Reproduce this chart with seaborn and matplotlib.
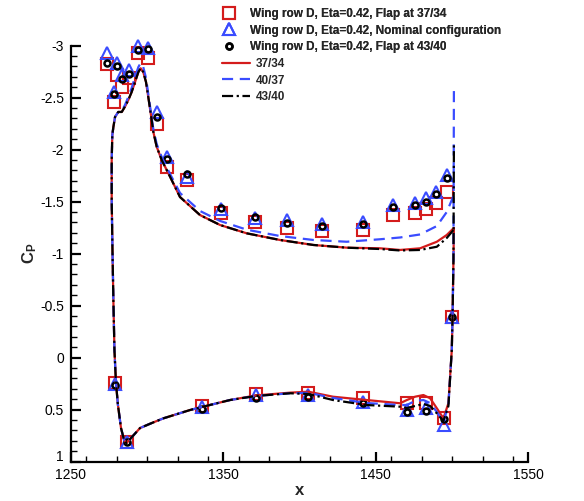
import matplotlib
matplotlib.use("Agg")
import matplotlib.pyplot as plt
from matplotlib.ticker import MultipleLocator, FuncFormatter
from matplotlib.transforms import ScaledTranslation
import seaborn as sns

# ---------------- experimental pressure taps ----------------
upper_tap_x = [1273.8, 1277.9, 1280.2, 1283.7, 1288.1, 1293.8, 1300.7, 1306.2, 1313.0, 1326.1,
               1348.4, 1370.7, 1391.9, 1414.5, 1441.8, 1461.5, 1475.7, 1482.7, 1489.7, 1496.5]
sq_upper_cp = [-2.819, -2.460, -2.716, -2.604, -2.685, -2.925, -2.877, -2.242, -1.832, -1.707,
               -1.389, -1.306, -1.248, -1.216, -1.226, -1.370, -1.392, -1.425, -1.483, -1.594]
tri_upper_cp = [-2.931, -2.556, -2.829, -2.716, -2.764, -2.995, -2.979, -2.363, -1.928, -1.736,
                -1.428, -1.341, -1.322, -1.284, -1.306, -1.466, -1.488, -1.531, -1.594, -1.755]
circ_upper_cp = [-2.829, -2.534, -2.806, -2.675, -2.726, -2.957, -2.966, -2.315, -1.909, -1.764,
                 -1.440, -1.354, -1.296, -1.264, -1.284, -1.450, -1.466, -1.498, -1.569, -1.723]

lower_tap_x = [1278.9, 1286.5, 1335.8, 1371.1, 1405.8, 1441.4, 1470.5, 1482.9, 1494.6, 1499.8]
sq_lower_cp = [0.248, 0.810, 0.466, 0.354, 0.338, 0.392, 0.440, 0.438, 0.585, -0.392]
tri_lower_cp = [0.255, 0.810, 0.473, 0.361, 0.361, 0.425, 0.505, 0.488, 0.649, -0.389]
circ_lower_cp = [0.264, 0.810, 0.498, 0.392, 0.377, 0.440, 0.521, 0.512, 0.594, -0.392]

# ---------------- CFD curves ----------------
cfd_upper_x = [1276.7, 1276.7, 1277.1, 1277.8, 1278.9, 1281.0, 1283.3, 1285.4, 1287.6, 1289.8,
               1292.0, 1294.2, 1295.7, 1297.4, 1299.2, 1300.7, 1302.3, 1304.0, 1306.2, 1309.5,
               1315.0, 1321.5, 1334.6, 1347.8, 1365.3, 1387.1, 1409.0, 1430.9, 1452.8, 1465.9,
               1479.0, 1490.0, 1496.5, 1500.9]
red_upper_cp = [-1.514, -1.899, -2.139, -2.216, -2.313, -2.361, -2.361, -2.412, -2.476, -2.553,
                -2.649, -2.745, -2.781, -2.745, -2.649, -2.505, -2.348, -2.171, -2.027, -1.899,
                -1.738, -1.543, -1.370, -1.274, -1.194, -1.130, -1.082, -1.056, -1.050, -1.034,
                -1.050, -1.113, -1.178, -1.242]
blue_upper_cp = [-1.514, -1.899, -2.139, -2.216, -2.313, -2.361, -2.370, -2.428, -2.505, -2.591,
                 -2.697, -2.793, -2.832, -2.793, -2.688, -2.534, -2.370, -2.197, -2.053, -1.928,
                 -1.765, -1.582, -1.409, -1.313, -1.229, -1.168, -1.130, -1.113, -1.137, -1.154,
                 -1.183, -1.264, -1.399, -1.553]
black_upper_cp = [-1.514, -1.899, -2.139, -2.216, -2.313, -2.361, -2.361, -2.412, -2.476, -2.553,
                  -2.649, -2.745, -2.781, -2.745, -2.649, -2.505, -2.348, -2.171, -2.027, -1.899,
                  -1.738, -1.543, -1.370, -1.274, -1.194, -1.130, -1.082, -1.056, -1.043, -1.029,
                  -1.034, -1.065, -1.149, -1.226]

cfd_lower_x = [1277.2, 1277.8, 1278.5, 1279.5, 1280.8, 1282.8, 1284.8, 1286.5, 1290.0, 1295.3,
               1303.0, 1310.6, 1328.1, 1335.8, 1354.3, 1371.2, 1393.7, 1405.8, 1421.9, 1444.0,
               1465.9, 1470.3, 1475.7, 1481.2, 1485.6, 1490.0, 1494.3, 1497.6, 1499.8, 1500.3,
               1500.9, 1501.2]
red_lower_cp = [-1.034, -0.553, -0.072, 0.245, 0.457, 0.678, 0.793, 0.822, 0.764, 0.678,
                0.630, 0.585, 0.505, 0.476, 0.409, 0.365, 0.338, 0.329, 0.377, 0.409,
                0.440, 0.409, 0.377, 0.361, 0.392, 0.488, 0.585, 0.440, -0.072, -0.389,
                -0.938, -1.245]
blue_lower_cp = [-1.034, -0.553, -0.072, 0.245, 0.457, 0.678, 0.793, 0.822, 0.764, 0.678,
                 0.630, 0.585, 0.505, 0.476, 0.409, 0.370, 0.344, 0.340, 0.389, 0.438,
                 0.457, 0.457, 0.418, 0.409, 0.438, 0.524, 0.620, 0.457, -0.072, -0.389,
                 -0.938, -2.591]
black_lower_cp = [-1.034, -0.553, -0.072, 0.245, 0.457, 0.678, 0.793, 0.822, 0.764, 0.678,
                  0.630, 0.585, 0.505, 0.476, 0.409, 0.370, 0.344, 0.351, 0.409, 0.457,
                  0.473, 0.486, 0.466, 0.447, 0.466, 0.537, 0.611, 0.466, -0.072, -0.389,
                  -0.938, -2.043]

exp_labels = ["Wing row D, Eta=0.42, Flap at 37/34",
              "Wing row D, Eta=0.42, Nominal configuration",
              "Wing row D, Eta=0.42, Flap at 43/40"]
cfd_labels = ["37/34", "40/37", "43/40"]

x_ticks = [1250, 1350, 1450, 1550]
y_ticks = [-3, -2.5, -2, -1.5, -1, -0.5, 0, 0.5, 1]

RED = "#d41c1c"
BLUE = "#3a4cff"
BLACK = "#000000"

sns.set_theme(style="white")
plt.rcParams["font.family"] = ["Liberation Sans", "DejaVu Sans"]
plt.rcParams["axes.unicode_minus"] = False
plt.rcParams["mathtext.fontset"] = "custom"
plt.rcParams["mathtext.rm"] = "Liberation Sans"
plt.rcParams["mathtext.bf"] = "Liberation Sans:bold"

fig = plt.figure(figsize=(5.84, 5.01), dpi=100)
ax = fig.add_axes([71 / 584, 1 - 461.5 / 501, 457.3 / 584, 416 / 501])

# experimental markers
exp_handles = []
for cps_u, cps_l, mk, col, ms, mew, z in [
    (sq_upper_cp, sq_lower_cp, "s", RED, 8.0, 1.5, 3),
    (tri_upper_cp, tri_lower_cp, "^", BLUE, 8.6, 1.5, 4),
    (circ_upper_cp, circ_lower_cp, "o", BLACK, 4.3, 1.8, 5),
]:
    xs = upper_tap_x + lower_tap_x
    ys = cps_u + cps_l
    sns.lineplot(x=xs, y=ys, sort=False, estimator=None, ax=ax, marker=mk,
                 linestyle="none", markersize=ms, markerfacecolor="none",
                 markeredgecolor=col, markeredgewidth=mew, color=col,
                 clip_on=False, zorder=z)
    exp_handles.append(ax.lines[-1])

# CFD lines
cfd_handles = []
for up, lo, col, ls in [
    (red_upper_cp, red_lower_cp, RED, "-"),
    (blue_upper_cp, blue_lower_cp, BLUE, (0, (5, 3))),
    (black_upper_cp, black_lower_cp, BLACK, (0, (5, 1.6, 1, 1.6))),
]:
    xs = cfd_upper_x[::-1] + cfd_lower_x
    ys = up[::-1] + lo
    sns.lineplot(x=xs, y=ys, sort=False, estimator=None, ax=ax, color=col,
                 linestyle=ls, linewidth=1.6, zorder=6)
    cfd_handles.append(ax.lines[-1])

ax.set_xlim(1250, 1550)
ax.set_ylim(1, -3)
ax.set_xticks(x_ticks)
ax.set_yticks(y_ticks)
ax.xaxis.set_minor_locator(MultipleLocator(20))
ax.yaxis.set_minor_locator(MultipleLocator(0.1))
ax.yaxis.set_major_formatter(FuncFormatter(lambda v, p: "%g" % v))
ax.xaxis.set_major_formatter(FuncFormatter(lambda v, p: "%g" % v))

for s in ["top", "right"]:
    ax.spines[s].set_visible(False)
for s in ["left", "bottom"]:
    ax.spines[s].set_linewidth(1.6)
    ax.spines[s].set_color("black")

ax.tick_params(which="major", direction="in", length=7.5, width=1.6, labelsize=10,
               colors="black", pad=5, left=True, bottom=True)
ax.tick_params(which="minor", direction="in", length=4.2, width=1.0,
               colors="black", left=True, bottom=True)

ax.set_xlabel("x", fontsize=12, fontweight="bold")
ax.set_ylabel(r"$\mathbf{C_P}$", fontsize=12)
ax.xaxis.set_label_coords(0.5, -0.052)
ax.yaxis.set_label_coords(-0.07, 0.5)

# raise the bottom "1" y tick label a little, as in the reference
fig.canvas.draw()
last_lbl = ax.yaxis.get_major_ticks()[-1].label1
last_lbl.set_transform(last_lbl.get_transform() + ScaledTranslation(0, 6 / 100, fig.dpi_scale_trans))

leg1 = fig.legend(exp_handles, exp_labels, loc="upper left",
                  bbox_to_anchor=(222 / 584, 1 - 8 / 501), bbox_transform=fig.transFigure,
                  frameon=False, borderpad=0, borderaxespad=0, handlelength=1.19,
                  handletextpad=1.19, labelspacing=0.39, numpoints=1,
                  prop={"size": 8.5, "weight": "bold"})
leg2 = fig.legend(cfd_handles, cfd_labels, loc="upper left",
                  bbox_to_anchor=(222 / 584, 1 - 58 / 501), bbox_transform=fig.transFigure,
                  frameon=False, borderpad=0, borderaxespad=0, handlelength=2.37,
                  handletextpad=0.51, labelspacing=0.39,
                  prop={"size": 8.5, "weight": "bold"})
fig.add_artist(leg1)

fig.savefig("out.png", dpi=100)
